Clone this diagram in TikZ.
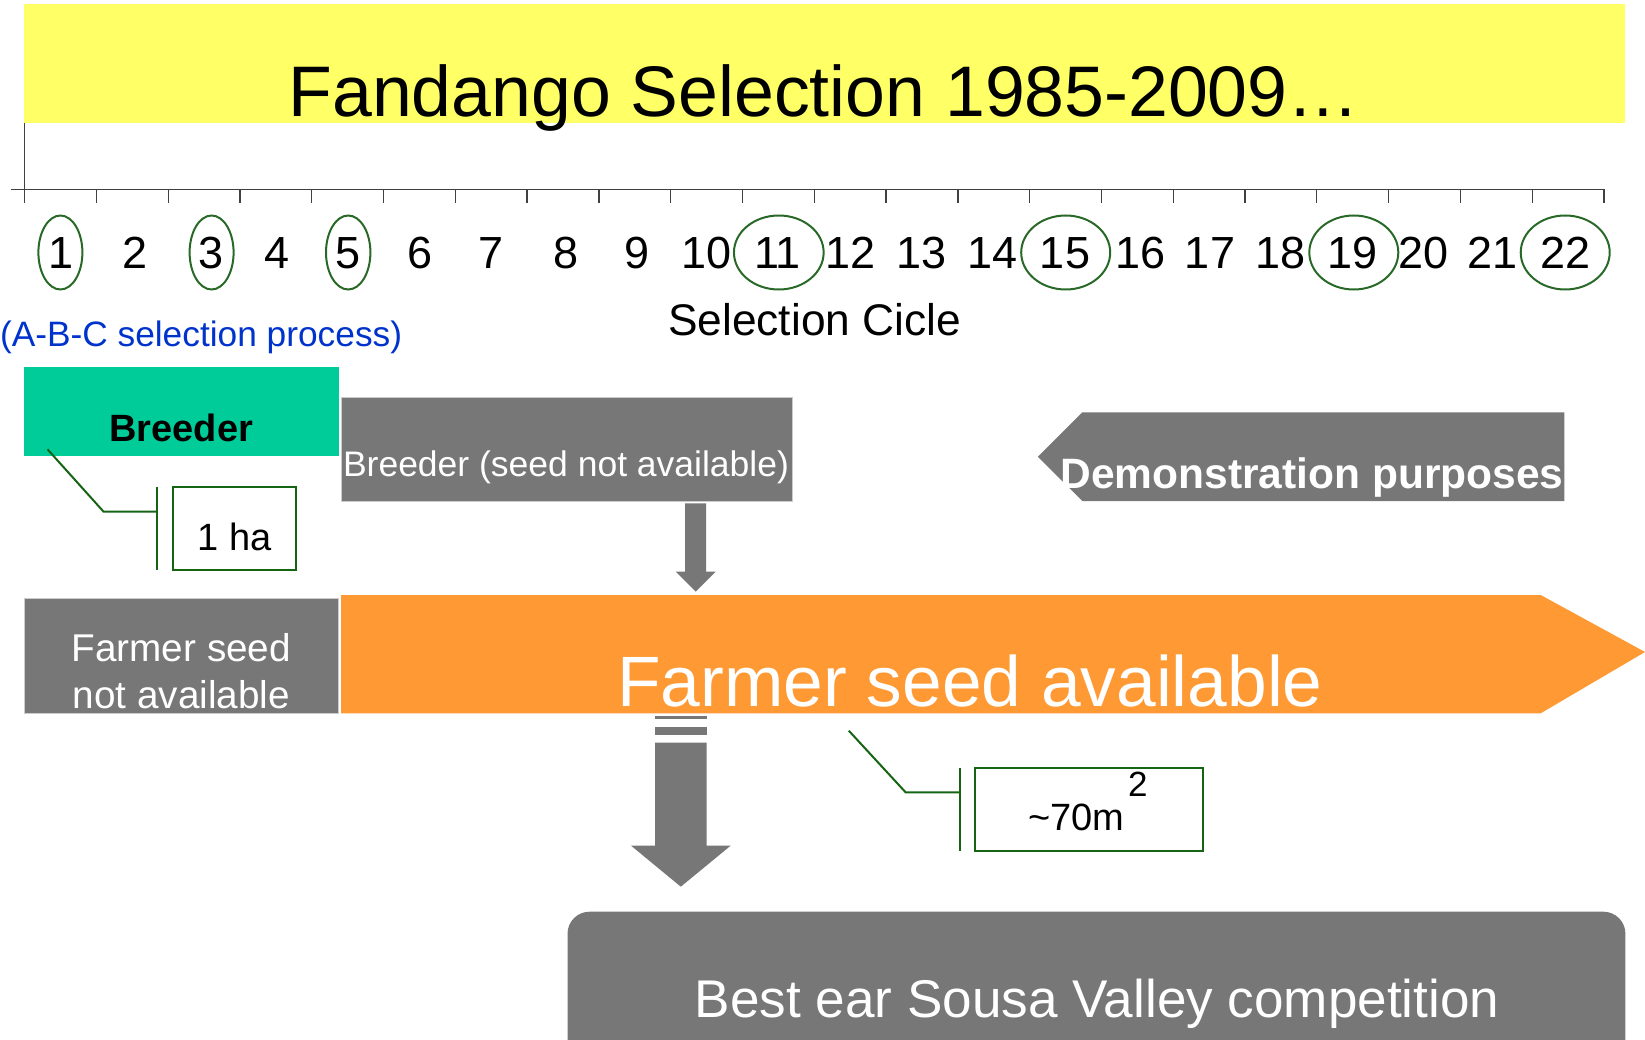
\documentclass[tikz,border=0pt]{standalone}
\usepackage{fontspec}
\setmainfont{Liberation Sans}
\usetikzlibrary{shapes.geometric}
\definecolor{titleyellow}{HTML}{FFFF66}
\definecolor{breedgreen}{HTML}{00CC99}
\definecolor{boxgray}{HTML}{777777}
\definecolor{seedorange}{HTML}{FF9933}
\definecolor{abcblue}{HTML}{0033CC}
\definecolor{leadgreen}{RGB}{20,100,20}
\definecolor{ringgreen}{RGB}{40,105,40}
\newcommand{\fsz}[1]{\fontsize{#1}{#1}\selectfont}
\begin{document}
\begin{tikzpicture}[x=1pt,y=-1pt,
  txt/.style={inner sep=0pt, outer sep=0pt},
  rect/.style={inner sep=0pt, outer sep=0pt, rectangle},
  graybox/.style={rect, fill=boxgray, draw=black!20, line width=0.8pt},
  ring/.style={ellipse, draw=ringgreen, line width=2pt, inner sep=0pt, minimum height=74pt},
  lead/.style={draw=leadgreen, line width=2pt},
  tickline/.style={draw=black!75, line width=1.3pt},
]
\useasboundingbox (0,0) rectangle (1645,1040);
% title
\node[rect, fill=titleyellow, minimum width=1601.5pt, minimum height=119pt] (title) at (824.25,63.8) {};
\node[txt, anchor=base, font=\fsz{71.6}] (titletext) at (824,116.7) {Fandango Selection 1985-2009…};
% axis
\coordinate (ax0) at (10.5,189.3);
\coordinate (ax1) at (1604,189.3);
\coordinate (vtop) at (24.6,123.3);
\coordinate (vbot) at (24.6,189.3);
\draw[tickline] (ax0) -- (ax1);
\draw[tickline] (vtop) -- (vbot);
\foreach \k in {0,...,22} \draw[tickline] ({24.6+71.79*\k},189.3) -- ++(0,13.4);
% numbers
\foreach \n/\xx in {1/60.7,2/135,3/210.7,4/276.8,5/348.2,6/419.6,7/491,8/565.7,9/637,10/706.4,11/777.5,12/850.7,13/921.4,14/992.9,15/1065,16/1140.4,17/1210,18/1280.7,19/1352.9,20/1423.6,21/1492.1,22/1565.4}
  \node[txt, anchor=base, font=\fsz{45}] (n\n) at (\xx,268.3) {\n};
\foreach \n/\xx/\w in {1/60.4/44,3/211.6/44,5/348.2/44.4,11/778.8/89.7,15/1065.7/89,19/1353.8/89,22/1565.2/89}
  \node[ring, minimum width=\w pt] (r\n) at (\xx,252.5) {};
\node[txt, anchor=base, font=\fsz{44.3}] (cicle) at (814.6,335) {Selection Cicle};
\node[txt, anchor=base west, font=\fsz{35.3}, text=abcblue] (abc) at (0,346) {(A-B-C selection process)};
% breeder
\node[rect, fill=breedgreen, minimum width=314.7pt, minimum height=88.4pt] (breeder) at (181.25,411.5) {};
\node[txt, anchor=base, font=\bfseries\fsz{38}] (breedertext) at (181.25,441) {Breeder};
% breeder seed not available
\node[graybox, minimum width=451pt, minimum height=103.3pt] (bns) at (567.2,449.35) {};
\node[txt, anchor=base, font=\fsz{35.5}, text=white] (bnstext) at (566,476) {Breeder (seed not available)};
\fill[boxgray] (685,503.3) -- (706,503.3) -- (706,571.7) -- (715.7,571.7) -- (695.7,591.7) -- (675.7,571.7) -- (685,571.7) -- cycle;
% 1 ha
\node[rect, draw=leadgreen, line width=1.8pt, minimum width=122.5pt, minimum height=83.3pt] (ha) at (234.45,528.35) {};
\node[txt, anchor=base, font=\fsz{38}] (hatext) at (234.45,550) {1 ha};
\coordinate (l1a) at (47.5,449.3);
\coordinate (l1b) at (103.6,511.7);
\coordinate (l1c) at (157.1,511.7);
\coordinate (b1a) at (157.1,486.7);
\coordinate (b1b) at (157.1,570);
\draw[lead] (l1a) -- (l1b) -- (l1c);
\draw[lead] (b1a) -- (b1b);
% farmer seed not available
\node[graybox, minimum width=314.7pt, minimum height=115pt] (fsna) at (181.25,655.8) {};
\node[txt, anchor=base, font=\fsz{38.7}, text=white] (fsna1) at (181.3,661.7) {Farmer seed};
\node[txt, anchor=base, font=\fsz{38.7}, text=white] (fsna2) at (181.3,708.3) {not available};
% orange arrow
\fill[seedorange] (341,595) -- (1540.7,595) -- (1645,652) -- (1540.7,713.3) -- (341,713.3) -- cycle;
\node[txt, anchor=base, font=\fsz{71.3}, text=white] (fsa) at (970,706.7) {Farmer seed available};
% demonstration
\fill[boxgray] (1082.3,412.3) -- (1564.4,412.3) -- (1564.4,501) -- (1082.3,501) -- (1037.8,456.7) -- cycle;
\node[txt, anchor=base west, font=\bfseries\fsz{42.5}, text=white] (demo) at (1060.6,488.3) {Demonstration purposes};
% big down arrow
\fill[boxgray] (655.1,716) rectangle (706.6,719);
\fill[boxgray] (655.1,726.7) rectangle (706.6,735);
\fill[boxgray] (655.1,742.7) -- (706.6,742.7) -- (706.6,845.7) -- (730.6,845.7) -- (680.8,886.7) -- (631.1,845.7) -- (655.1,845.7) -- cycle;
% 70 m2
\coordinate (l2a) at (848.8,730.7);
\coordinate (l2b) at (905.6,792.3);
\coordinate (l2c) at (959.9,792.3);
\coordinate (b2a) at (959.9,768.3);
\coordinate (b2b) at (959.9,850.7);
\draw[lead] (l2a) -- (l2b) -- (l2c);
\draw[lead] (b2a) -- (b2b);
\node[rect, draw=leadgreen, line width=1.8pt, minimum width=228pt, minimum height=82.4pt] (area) at (1089.2,809.5) {};
\node[txt, anchor=base west, font=\fsz{38}] (areatext) at (1028,830) {\textasciitilde 70m\kern4pt\raisebox{33.3pt}{\fsz{35}2}};
% best ear
\node[rect, fill=boxgray, rounded corners=22pt, minimum width=1057.9pt, minimum height=168pt] (best) at (1096.45,995.7) {};
\node[txt, anchor=base, font=\fsz{53.1}, text=white] (besttext) at (1097,1017.7) {Best ear Sousa Valley competition};
\end{tikzpicture}
\end{document}
